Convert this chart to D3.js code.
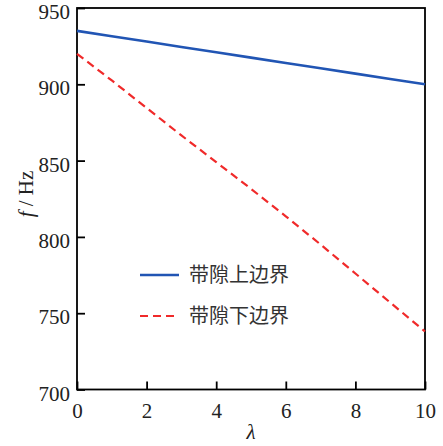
<!DOCTYPE html>
<html><head><meta charset="utf-8">
<script src="https://cdn.jsdelivr.net/npm/d3@7"></script>
<style>body{margin:0;background:#fff}</style>
</head><body>
<svg id="c" width="443" height="446"></svg>
<script>
const lambdaVals = [0,1,2,3,4,5,6,7,8,9,10];
const upperBound = [935,931.5,928,924.5,921,917.5,914,910.5,907,903.5,900];
const lowerBound = [920,902.5,884.5,866.5,849,831.5,813.5,795,776,757,738];
const xTicks = [0,2,4,6,8,10];
const yTicks = [700,750,800,850,900,950];
const seriesNames = ["带隙上边界","带隙下边界"];

const svg = d3.select("#c");
const L=77, R=425, T=8, B=389.5;
const x = d3.scaleLinear().domain([0,10]).range([L,R]);
const y = d3.scaleLinear().domain([700,950]).range([B,T]);
const serif = "'Liberation Serif','Times New Roman',serif";

// frame
svg.append("rect").attr("x",L).attr("y",T).attr("width",R-L).attr("height",B-T)
  .attr("fill","none").attr("stroke","#000").attr("stroke-width",1.8);

// axes
const xa = svg.append("g").attr("transform",`translate(0,${B})`)
  .call(d3.axisBottom(x).tickValues(xTicks).tickSizeInner(-8).tickSizeOuter(0).tickPadding(14));
const ya = svg.append("g").attr("transform",`translate(${L},0)`)
  .call(d3.axisLeft(y).tickValues(yTicks).tickSizeInner(-8).tickSizeOuter(0).tickPadding(7));
[xa,ya].forEach(g=>{
  g.attr("font-family",null).attr("font-size",null);
  g.select(".domain").remove();
  g.selectAll(".tick line").attr("stroke","#000").attr("stroke-width",1.8);
  g.selectAll(".tick text").style("font-family",serif).style("font-size","21px").attr("fill","#222");
});
ya.selectAll(".tick text").attr("dy","0.5em");

const line = d3.line().x((d,i)=>x(lambdaVals[i])).y(d=>y(d));
svg.append("path").datum(upperBound).attr("d",line).attr("fill","none")
  .attr("stroke","#2155b4").attr("stroke-width",2.6);
svg.append("path").datum(lowerBound).attr("d",line).attr("fill","none")
  .attr("stroke","#f02a2a").attr("stroke-width",2.2).attr("stroke-dasharray","8,5");

// legend
const leg = [{name:seriesNames[0],color:"#2155b4",dash:null,w:2.6,yy:275},
             {name:seriesNames[1],color:"#f02a2a",dash:"8,5",w:2.2,yy:316}];
leg.forEach(d=>{
  svg.append("line").attr("x1",140).attr("x2",179).attr("y1",d.yy).attr("y2",d.yy)
    .attr("stroke",d.color).attr("stroke-width",d.w).attr("stroke-dasharray",d.dash);
  svg.append("text").attr("x",189).attr("y",d.yy).attr("dy","0.36em")
    .style("font-family","'Noto Sans CJK SC',sans-serif").style("font-size","20px").attr("fill","#333")
    .text(d.name);
});

// axis titles
svg.append("text").attr("x",(L+R)/2).attr("y",439).attr("text-anchor","middle")
  .style("font-family",serif).style("font-style","italic").style("font-size","21px").attr("fill","#222").text("λ");
const yt = svg.append("text").attr("transform","translate(33,194) rotate(-90)").attr("text-anchor","middle")
  .style("font-family",serif).style("font-size","21px").attr("fill","#222");
yt.append("tspan").style("font-style","italic").text("f");
yt.append("tspan").text(" / Hz");
</script>
</body></html>
